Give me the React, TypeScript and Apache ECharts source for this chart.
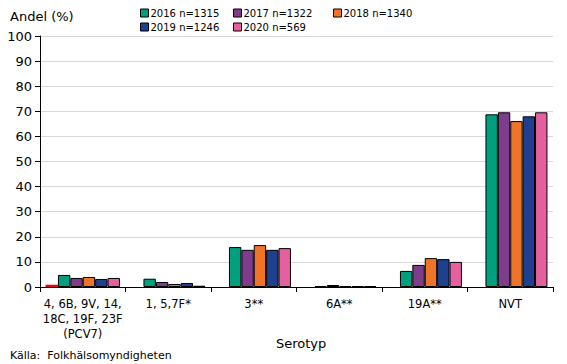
import React, { useEffect, useRef } from "react";
import * as echarts from "echarts";

const categories = ["4, 6B, 9V, 14,\n18C, 19F, 23F\n(PCV7)", "1, 5,7F*", "3**", "6A**", "19A**", "NVT"];
const seriesNames = ["", "2016 n=1315", "2017 n=1322", "2018 n=1340", "2019 n=1246", "2020 n=569"];
const seriesColors = ["#E3001B", "#00A07E", "#7F3B8C", "#F07427", "#1F3F8F", "#E5609E"];
const valuesExtra = [0.9, 0, 0, 0, 0, 0];
const values2016 = [4.8, 3.3, 15.9, 0.4, 6.4, 68.8];
const values2017 = [3.6, 2.0, 14.8, 0.8, 8.8, 69.6];
const values2018 = [4.0, 1.2, 16.7, 0.4, 11.5, 66.1];
const values2019 = [3.2, 1.6, 14.8, 0.4, 11.1, 68.0];
const values2020 = [3.6, 0.5, 15.5, 0.4, 10.0, 69.6];
const allValues = [valuesExtra, values2016, values2017, values2018, values2019, values2020];
const yTicks = [0, 10, 20, 30, 40, 50, 60, 70, 80, 90, 100];

const FONT = "DejaVu Sans";

export default function App() {
  const ref = useRef<HTMLDivElement>(null);
  useEffect(() => {
    const chart = echarts.init(ref.current!, null, { renderer: "svg" });
    const legendPos = [
      [140, 8],
      [233, 8],
      [333, 8],
      [140, 22],
      [233, 22],
    ];
    const legends = seriesNames.slice(1).map((n, i) => ({
      data: [n],
      left: legendPos[i][0],
      top: legendPos[i][1],
      itemWidth: 8,
      itemHeight: 8,
      itemGap: 0,
      padding: 0,
      icon: "rect",
      textStyle: { fontFamily: FONT, fontSize: 10, color: "#000", padding: [0, 0, 0, -3] },
      itemStyle: { borderColor: "#000", borderWidth: 1 },
    }));
    chart.setOption({
      animation: false,
      textStyle: { fontFamily: FONT },
      legend: legends,
      grid: { left: 40, right: 14, top: 36, bottom: 77 },
      title: [
        { text: "Andel (%)", left: 5, top: 5, textStyle: { fontFamily: FONT, fontSize: 13, fontWeight: "normal", color: "#000" } },
        { text: "Serotyp", left: 271, top: 332, textStyle: { fontFamily: FONT, fontSize: 13, fontWeight: "normal", color: "#000" } },
        { text: "Källa:  Folkhälsomyndigheten", left: 5, top: 345, textStyle: { fontFamily: FONT, fontSize: 11, fontWeight: "normal", color: "#000" } },
      ],
      xAxis: {
        type: "category",
        data: categories,
        axisLine: { lineStyle: { color: "#000", width: 1 } },
        axisTick: { show: true, alignWithLabel: false, length: 5, lineStyle: { color: "#000" } },
        axisLabel: { fontFamily: FONT, fontSize: 11.5, color: "#000", lineHeight: 15, margin: 9, interval: 0 },
      },
      yAxis: {
        type: "value",
        min: yTicks[0],
        max: yTicks[yTicks.length - 1],
        interval: 10,
        axisLine: { show: true, lineStyle: { color: "#000", width: 1 } },
        axisTick: { show: true, length: 5, lineStyle: { color: "#000" } },
        axisLabel: { fontFamily: FONT, fontSize: 13, color: "#000", margin: 8 },
        splitLine: { lineStyle: { color: "#d9d9d9", width: 1 } },
      },
      series: allValues.map((vals, i) => ({
        type: "bar",
        name: seriesNames[i],
        data: vals,
        barGap: "0%",
        barCategoryGap: "13%",
        itemStyle: {
          color: seriesColors[i],
          borderColor: i === 0 ? "transparent" : "#000",
          borderWidth: i === 0 ? 0 : 1,
        },
      })),
    });
    return () => chart.dispose();
  }, []);
  return <div ref={ref} style={{ width: 567, height: 364, position: "absolute", left: 0, top: 0 }} />;
}
